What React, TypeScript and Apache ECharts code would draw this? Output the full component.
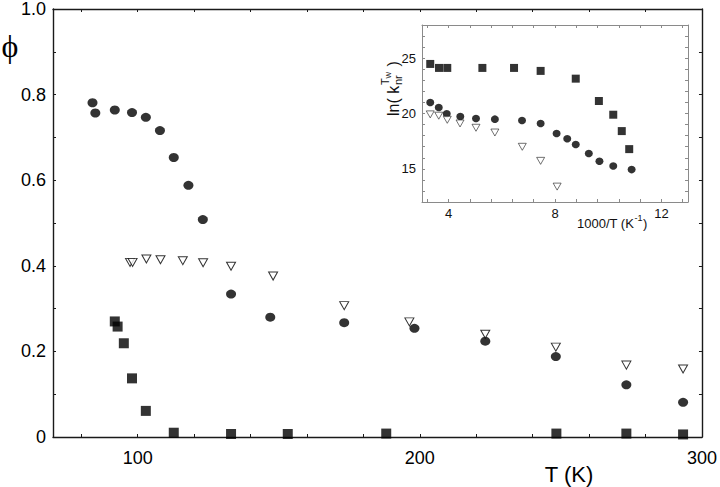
import React, { useEffect, useRef } from "react";
import * as echarts from "echarts";

// Main plot: quantum yield phi vs temperature T (K)
const mainCircles: [number, number][] = [
  [84.0, 0.781], [85.0, 0.757], [91.9, 0.764], [98.0, 0.758], [102.9, 0.747],
  [107.9, 0.716], [112.8, 0.653], [118.0, 0.588], [123.1, 0.508], [133.1, 0.334],
  [147.0, 0.280], [173.2, 0.267], [198.1, 0.254], [223.2, 0.224], [248.2, 0.188],
  [273.2, 0.122], [293.3, 0.081],
];
const mainSquares: [number, number][] = [
  [91.9, 0.270], [92.9, 0.258], [95.1, 0.219], [98.0, 0.137], [102.9, 0.061],
  [112.8, 0.010], [133.1, 0.007], [153.2, 0.007], [188.1, 0.008], [248.4, 0.008],
  [273.2, 0.008], [293.3, 0.006],
];
const mainTriangles: [number, number][] = [
  [97.3, 0.408], [98.2, 0.408], [103.1, 0.416], [108.1, 0.414], [116.0, 0.412],
  [123.2, 0.407], [133.1, 0.399], [148.0, 0.376], [173.2, 0.307], [196.3, 0.269],
  [223.2, 0.240], [248.2, 0.210], [273.2, 0.168], [293.3, 0.159],
];

// Inset: ln(k_nr) vs 1000/T
const insetSquares: [number, number][] = [
  [3.31, 24.48], [3.64, 24.12], [3.95, 24.12], [5.27, 24.12], [6.46, 24.12],
  [7.46, 23.85], [8.78, 23.15], [9.65, 21.13], [10.19, 19.89], [10.51, 18.41],
  [10.79, 16.78],
];
const insetCircles: [number, number][] = [
  [3.31, 21.0], [3.63, 20.55], [3.93, 19.98], [4.44, 19.73], [5.03, 19.55],
  [5.74, 19.49], [6.76, 19.36], [7.46, 19.10], [8.06, 18.19], [8.46, 17.71],
  [8.78, 17.19], [9.27, 16.38], [9.67, 15.69], [10.19, 15.26], [10.88, 14.93],
];
const insetTriangles: [number, number][] = [
  [3.31, 19.92], [3.63, 19.80], [3.95, 19.43], [4.43, 19.10], [5.03, 18.71],
  [5.74, 18.28], [6.77, 16.99], [7.46, 15.72], [8.08, 13.39],
];

// Ticks and labels
const mainXTicks = [80, 100, 120, 140, 160, 180, 200, 220, 240, 260, 280, 300];
const mainXLabels = [100, 200, 300];
const mainYLabels = [0, 0.2, 0.4, 0.6, 0.8, 1.0];
const insetXTicks = [3.2, 4, 4.8, 5.6, 6.4, 7.2, 8, 8.8, 9.6, 10.4, 11.2, 12, 12.8];
const insetXLabels = [4, 8, 12];
const insetYLabels = [15, 20, 25];

const FONT = "'Liberation Sans', Arial, sans-serif";

export default function App() {
  const ref = useRef<HTMLDivElement>(null);
  useEffect(() => {
    if (!ref.current) return;
    const chart = echarts.init(ref.current, null, { renderer: "svg" });
    const black = "#000";
    const frame = "#1a1a1a";
    const gray = "#8a8a8a";
    const mainLine = { show: true, onZero: false, lineStyle: { color: frame, width: 1.4 } };
    const insetLine = { show: true, onZero: false, lineStyle: { color: gray, width: 1 } };
    const option: any = {
      animation: false,
      backgroundColor: "#fff",
      grid: [
        { left: 53, top: 8, right: 16, bottom: 50 },
        { left: 422, top: 25, right: 32, bottom: 285 },
      ],
      xAxis: [
        {
          gridIndex: 0, type: "value", min: 70, max: 300, position: "bottom",
          axisLine: mainLine,
          axisTick: { inside: true, length: 3, customValues: mainXTicks, lineStyle: { color: frame } },
          axisLabel: { customValues: mainXLabels, fontSize: 18, margin: 12, color: black, fontFamily: FONT },
          splitLine: { show: false },
        },
        {
          gridIndex: 0, type: "value", min: 70, max: 300, position: "top",
          axisLine: mainLine,
          axisTick: { inside: true, length: 3, customValues: mainXTicks, lineStyle: { color: frame } },
          axisLabel: { show: false },
          splitLine: { show: false },
        },
        {
          gridIndex: 1, type: "value", min: 3, max: 13, position: "bottom",
          axisLine: insetLine,
          axisTick: { inside: true, length: 3, customValues: insetXTicks, lineStyle: { color: gray } },
          axisLabel: { customValues: insetXLabels, fontSize: 13, margin: 5, color: "#111", fontFamily: FONT },
          splitLine: { show: false },
        },
        {
          gridIndex: 1, type: "value", min: 3, max: 13, position: "top",
          axisLine: insetLine,
          axisTick: { inside: true, length: 3, customValues: insetXTicks, lineStyle: { color: gray } },
          axisLabel: { show: false },
          splitLine: { show: false },
        },
      ],
      yAxis: [
        {
          gridIndex: 0, type: "value", min: 0, max: 1, interval: 0.1, position: "left",
          axisLine: mainLine,
          axisTick: { inside: true, length: 3, lineStyle: { color: frame } },
          axisLabel: {
            customValues: mainYLabels, fontSize: 18, margin: 7, color: black, fontFamily: FONT,
            formatter: (v: number) => (v === 0 ? "0" : v.toFixed(1)),
          },
          splitLine: { show: false },
        },
        {
          gridIndex: 0, type: "value", min: 0, max: 1, interval: 0.1, position: "right",
          axisLine: mainLine,
          axisTick: { inside: true, length: 3, lineStyle: { color: frame } },
          axisLabel: { show: false },
          splitLine: { show: false },
        },
        {
          gridIndex: 1, type: "value", min: 12, max: 28, interval: 1, position: "left",
          axisLine: insetLine,
          axisTick: { inside: true, length: 3, lineStyle: { color: gray } },
          axisLabel: { customValues: insetYLabels, fontSize: 13, margin: 6, color: "#111", fontFamily: FONT },
          splitLine: { show: false },
        },
        {
          gridIndex: 1, type: "value", min: 12, max: 28, interval: 1, position: "right",
          axisLine: insetLine,
          axisTick: { inside: true, length: 3, lineStyle: { color: gray } },
          axisLabel: { show: false },
          splitLine: { show: false },
        },
      ],
      series: [
        {
          type: "scatter", xAxisIndex: 0, yAxisIndex: 0, data: mainSquares, silent: true,
          symbol: "rect", symbolSize: 10, itemStyle: { color: black },
        },
        {
          type: "scatter", xAxisIndex: 0, yAxisIndex: 0, data: mainCircles, silent: true,
          symbol: "circle", symbolSize: [10, 9], itemStyle: { color: black },
        },
        {
          type: "scatter", xAxisIndex: 0, yAxisIndex: 0, data: mainTriangles, silent: true,
          symbol: "triangle", symbolRotate: 180, symbolSize: [9, 8],
          itemStyle: { color: "#fff", borderColor: black, borderWidth: 1 },
        },
        {
          type: "scatter", xAxisIndex: 2, yAxisIndex: 2, data: insetSquares, silent: true,
          symbol: "rect", symbolSize: 8, itemStyle: { color: black },
        },
        {
          type: "scatter", xAxisIndex: 2, yAxisIndex: 2, data: insetCircles, silent: true,
          symbol: "circle", symbolSize: [8, 7.5], itemStyle: { color: black },
        },
        {
          type: "scatter", xAxisIndex: 2, yAxisIndex: 2, data: insetTriangles, silent: true,
          symbol: "triangle", symbolRotate: 180, symbolSize: [8, 7],
          itemStyle: { color: "#fff", borderColor: "#222", borderWidth: 0.8 },
        },
      ],
      graphic: [
        {
          type: "text", x: 10, y: 46,
          style: {
            text: "ϕ", font: "32px 'Liberation Serif', 'Times New Roman', serif", fill: black,
            textAlign: "center", textVerticalAlign: "middle",
          },
        },
        {
          type: "text", x: 569, y: 474,
          style: { text: "T (K)", font: "22px " + FONT, fill: black, textAlign: "center", textVerticalAlign: "middle" },
        },
        {
          type: "group", x: 577, y: 223,
          children: [
            { type: "text", x: 0, y: 0, style: { text: "1000/T (K", font: "13px " + FONT, fill: "#111", textVerticalAlign: "middle" } },
            { type: "text", x: 57.5, y: -5, style: { text: "-1", font: "9px " + FONT, fill: "#111", textVerticalAlign: "middle" } },
            { type: "text", x: 66, y: 0, style: { text: ")", font: "13px " + FONT, fill: "#111", textVerticalAlign: "middle" } },
          ],
        },
        {
          type: "group", x: 393, y: 116, rotation: Math.PI / 2,
          children: [
            { type: "text", x: 0, y: 0, style: { text: "ln( k", font: "16px " + FONT, fill: "#111", textVerticalAlign: "middle" } },
            { type: "text", x: 31, y: 5, style: { text: "nr", font: "11px " + FONT, fill: "#111", textVerticalAlign: "middle" } },
            { type: "text", x: 31, y: -8, style: { text: "T", font: "11px " + FONT, fill: "#111", textVerticalAlign: "middle" } },
            { type: "text", x: 37.5, y: -5, style: { text: "W", font: "7px " + FONT, fill: "#111", textVerticalAlign: "middle" } },
            { type: "text", x: 45, y: 0, style: { text: " )", font: "16px " + FONT, fill: "#111", textVerticalAlign: "middle" } },
          ],
        },
      ],
    };
    chart.setOption(option);
    return () => chart.dispose();
  }, []);
  return (
    <div
      ref={ref}
      style={{ position: "fixed", left: 0, top: 0, width: 720, height: 487, background: "#fff" }}
    />
  );
}
